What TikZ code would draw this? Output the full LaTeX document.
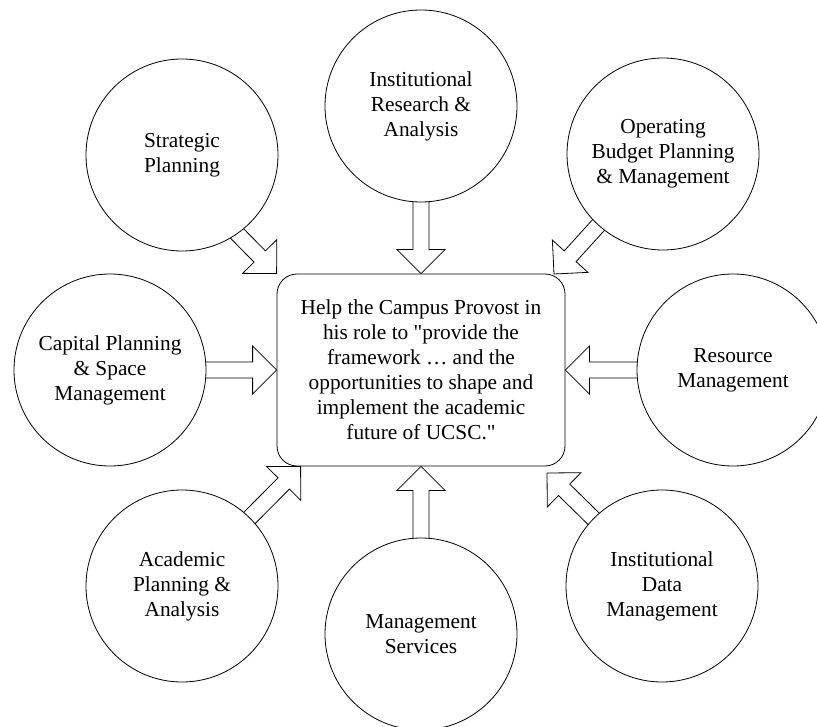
\documentclass[tikz,border=0pt]{standalone}
\usepackage{fontspec}
\setmainfont{Liberation Serif}
\usetikzlibrary{calc,backgrounds}
\tikzset{unit/.style={circle,draw,fill=white,line width=0.6pt,minimum size=144pt,inner sep=0pt,align=center,font=\fontsize{16}{18.75}\selectfont},
hub/.style={rectangle,rounded corners=15pt,draw,fill=white,line width=0.6pt,minimum width=216pt,minimum height=144pt,inner sep=0pt,align=center,font=\fontsize{16}{18.75}\selectfont},
fat/.style={draw,fill=white,line width=0.6pt,line join=miter}}

% hollow block arrow from #1 to the tip #2 (head 18pt long, 36pt wide, shaft 12pt)
\newcommand{\feedarrow}[2]{%
  \coordinate (base) at ($(#2)!18pt!(#1)$);
  \draw[fat] (#2) -- ($(base)!18pt!90:(#2)$) -- ($(base)!6pt!90:(#2)$)
    -- ($(#1)!6pt!90:(#2)$) -- ($(#1)!6pt!-90:(#2)$)
    -- ($(base)!6pt!-90:(#2)$) -- ($(base)!18pt!-90:(#2)$) -- cycle;}

\begin{document}
\begin{tikzpicture}[x=0.75pt,y=-0.75pt]
        \clip (0,0) rectangle (817,727);

        \node[hub] (goal) at (421,370) {Help the Campus Provost in\\ his role to \textquotedbl provide the\\ framework \dots\ and the\\ opportunities to shape and\\ implement the academic\\ future of UCSC.\textquotedbl};

        \node[unit] (research) at (421,106) {Institutional\\ Research \&\\ Analysis};
        \node[unit] (strat) at (182,155) {Strategic\\ Planning};
        \node[unit] (budget) at (663,154) {Operating\\ Budget Planning\\ \& Management};
        \node[unit] (capital) at (110,370) {Capital Planning\\ \& Space\\ Management};
        \node[unit] (resource) at (733,370) {Resource\\ Management};
        \node[unit] (academic) at (182,586) {Academic\\ Planning \&\\ Analysis};
        \node[unit] (services) at (421,634) {Management\\ Services};
        \node[unit] (data) at (662,586) {Institutional\\ Data\\ Management};

        % arrow tips on the goal box
        \coordinate (tbudget) at (554,274);
        \coordinate (tacademic) at ([xshift=18pt]goal.south west);
        \coordinate (tdata) at (547,473);

        \begin{scope}[on background layer]
        \feedarrow{research.center}{goal.north}
        \feedarrow{[yshift=-17pt]strat.center}{goal.north west}
        \feedarrow{budget.center}{tbudget}
        \feedarrow{capital.center}{goal.west}
        \feedarrow{resource.center}{goal.east}
        \feedarrow{academic.center}{tacademic}
        \feedarrow{services.center}{goal.south}
        \feedarrow{data.center}{tdata}
        \end{scope}
    \end{tikzpicture}
\end{document}
